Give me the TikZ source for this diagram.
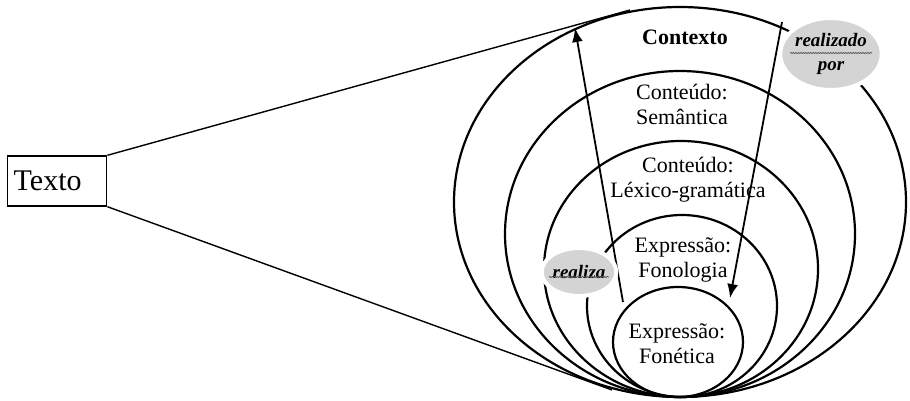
\documentclass[tikz,border=0pt]{standalone}
\usepackage{fontspec}
\setmainfont{Liberation Serif}
\usetikzlibrary{shapes.geometric,arrows.meta,decorations.pathmorphing}
\begin{document}
\begin{tikzpicture}[x=1pt,y=1pt,
    layer/.style={ellipse,draw,line width=2.2pt,inner sep=0pt,outer sep=0pt},
    layertext/.style={align=center,font=\fontsize{22}{25}\selectfont},
    blob/.style={ellipse,fill=black!17,draw=white,line width=4pt,inner sep=0pt,
      align=center,font=\fontsize{19}{24}\selectfont\bfseries\itshape},
    wavy/.style={draw=black!65,line width=0.7pt,decorate,
      decoration={snake,amplitude=0.7pt,segment length=2.5pt}},
    realizes/.style={-{Latex[length=14pt,width=11pt]},line width=1.8pt}]
  \useasboundingbox (0,0) rectangle (910,400);
  \node[layer,minimum width=452,minimum height=390] (contexto) at (680,198) {};
  \node[layer,minimum width=350,minimum height=326] (semantica) at (680,166) {};
  \node[layer,minimum width=274,minimum height=256] (lexico) at (681,131) {};
  \node[layer,minimum width=190,minimum height=182] (fonologia) at (682,94) {};
  \node[layer,minimum width=130,minimum height=110] (fonetica) at (678,58) {};
  \node[font=\fontsize{22}{25}\selectfont\bfseries] (contextotext) at (685,363) {Contexto};
  \node[layertext] (semanticatext) at (682,296) {Conteúdo:\\Semântica};
  \node[layertext] (lexicotext) at (688,220) {Conteúdo:\\Léxico-gramática};
  \node[layertext] (fonologiatext) at (683,140) {Expressão:\\Fonologia};
  \node[layertext] (foneticatext) at (677,56) {Expressão:\\Fonética};
  \node[draw,line width=1.4pt,anchor=west,minimum height=50,text width=87,
    inner xsep=6pt,align=left,font=\fontsize{30}{32}\selectfont] (texto) at (7,219) {Texto};
  \coordinate (top) at (630,390);
  \coordinate (bottom) at (612,10);
  \coordinate (upstart) at (623,98);
  \coordinate (uptip) at (575,372);
  \coordinate (downstart) at (782,378);
  \coordinate (downtip) at (730,102);
  \begin{scope}[line width=1.4pt]
    \draw (texto.north east) -- (top);
    \draw (texto.south east) -- (bottom);
  \end{scope}
  \draw[realizes] (upstart) -- (uptip);
  \draw[realizes] (downstart) -- (downtip);
  \node[blob,minimum width=86,minimum height=72] (realizadopor) at (831,346) {realizado\\por};
  \node[blob,minimum width=66,minimum height=48] (realiza) at (579,128) {realiza};
  \draw[wavy] ([xshift=-41pt,yshift=1pt]realizadopor.center) -- ++(82,0);
  \draw[wavy] ([xshift=-30pt,yshift=-5pt]realiza.center) -- ++(60,0);
\end{tikzpicture}
\end{document}
